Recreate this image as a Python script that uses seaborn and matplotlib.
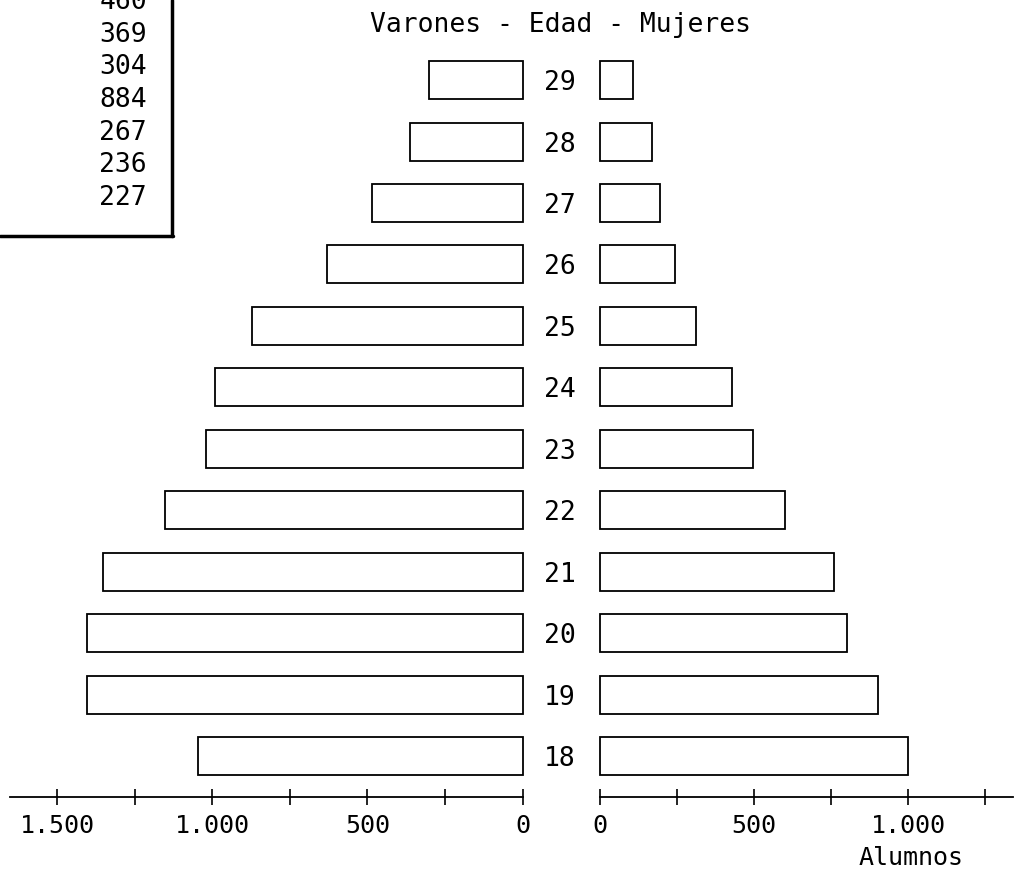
import matplotlib
matplotlib.use("Agg")
import matplotlib.pyplot as plt
import matplotlib.ticker as mticker
import seaborn as sns
import pandas as pd

# ages from top to bottom
edades = ["29", "28", "27", "26", "25", "24", "23", "22", "21", "20", "19", "18"]
varones = [300, 363, 485, 631, 873, 992, 1021, 1153, 1353, 1405, 1405, 1047]
mujeres = [107, 168, 196, 244, 312, 428, 498, 601, 760, 801, 904, 1001]

# numbers of the cut-off table in the upper left corner
tabla = ["460", "369", "304", "884", "267", "236", "227"]

df = pd.DataFrame({"edad": edades, "varones": varones, "mujeres": mujeres})

sns.set_style("white")
plt.rcParams["font.family"] = ["DejaVu Sans Mono", "DejaVu Sans"]
plt.rcParams["axes.edgecolor"] = "black"
plt.rcParams["text.color"] = "black"
plt.rcParams["xtick.color"] = "black"
plt.rcParams["ytick.color"] = "black"

W, H = 1025, 871
fig = plt.figure(figsize=(W / 100, H / 100), dpi=100)

bottom = (H - 797) / H
height = (797 - 50) / H
axL = fig.add_axes([10 / W, bottom, 512.5 / W, height])
axR = fig.add_axes([600 / W, bottom, 413 / W, height])

bar_kw = dict(color="white", edgecolor="black", linewidth=1.3, width=0.62,
              saturation=1, order=edades, orient="h")
sns.barplot(data=df, x="varones", y="edad", ax=axL, **bar_kw)
sns.barplot(data=df, x="mujeres", y="edad", ax=axR, **bar_kw)

def miles(v, pos):
    return f"{int(round(v)):,}".replace(",", ".")

for ax in (axL, axR):
    ax.set_ylim(11.667, -0.49)
    ax.set_xlabel("")
    ax.set_ylabel("")
    for p in ax.patches:
        p.set_clip_on(False)
    for s in ("top", "left", "right"):
        ax.spines[s].set_visible(False)
    ax.spines["bottom"].set_linewidth(1.3)
    ax.xaxis.set_minor_locator(mticker.MultipleLocator(250))
    ax.xaxis.set_major_formatter(mticker.FuncFormatter(miles))
    ax.tick_params(axis="x", which="both", direction="inout", length=11,
                   width=1.2, color="black", bottom=True)
    ax.tick_params(axis="x", which="major", labelsize=18, pad=7)

axL.set_xlim(1653, 0)
axL.set_xticks([1500, 1000, 500, 0])
axL.tick_params(axis="y", left=False, labelleft=False)

axR.set_xlim(0, 1341)
axR.set_xticks([0, 500, 1000])
axR.tick_params(axis="y", left=False, length=0, pad=28.8, labelsize=19)
for t in axR.get_yticklabels():
    t.set_horizontalalignment("center")

fig.text(561 / W, 1 - 25 / H, "Varones - Edad - Mujeres", ha="center",
         va="center", fontsize=19)
fig.text(911 / W, 1 - 858 / H, "Alumnos", ha="center", va="center",
         fontsize=18)

# cut-off table box in the upper left corner
for i, num in enumerate(tabla):
    fig.text(147 / W, 1 - (2 + i * 32.7) / H, num, ha="right", va="center",
             fontsize=19)
fig.add_artist(plt.Line2D([172 / W, 172 / W], [1, 1 - 236 / H],
                          transform=fig.transFigure, color="black", lw=2.5))
fig.add_artist(plt.Line2D([0, 173 / W], [1 - 236 / H, 1 - 236 / H],
                          transform=fig.transFigure, color="black", lw=2.5))

fig.savefig("out.png", dpi=100)
